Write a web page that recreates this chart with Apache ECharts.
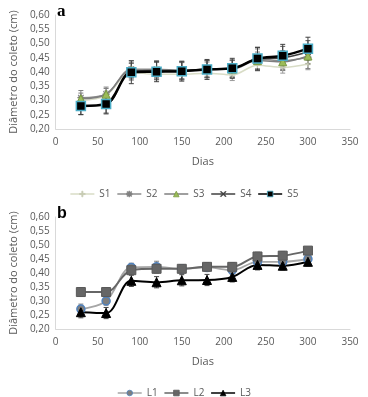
<!DOCTYPE html>
<html><head><meta charset="utf-8">
<script src="https://cdn.jsdelivr.net/npm/echarts@6/dist/echarts.min.js"></script>
<style>html,body{margin:0;padding:0;background:#fff}#c{width:368px;height:397px}</style>
</head><body><div id="c"></div>
<script>
const dias = [30,60,90,120,150,180,210,240,270,300];
const yTicks = ['0,20','0,25','0,30','0,35','0,40','0,45','0,50','0,55','0,60'];
// Panel a
const S1 = [0.300,0.318,0.398,0.392,0.392,0.396,0.390,0.424,0.416,0.428];
const S2 = [0.310,0.322,0.410,0.410,0.406,0.410,0.412,0.446,0.440,0.452];
const S3 = [0.306,0.322,0.405,0.405,0.403,0.410,0.410,0.440,0.436,0.456];
const S4 = [0.280,0.286,0.402,0.405,0.405,0.410,0.412,0.446,0.450,0.470];
const S5 = [0.281,0.288,0.399,0.401,0.403,0.409,0.413,0.447,0.457,0.482];
const E1 = [0.015,0.015,0.020,0.020,0.020,0.015,0.020,0.020,0.020,0.020];
const E2 = [0.025,0.025,0.030,0.030,0.030,0.030,0.030,0.035,0.035,0.040];
const E3 = [0.020,0.020,0.025,0.030,0.030,0.025,0.030,0.030,0.030,0.030];
const E4 = [0.030,0.030,0.030,0.030,0.030,0.030,0.030,0.040,0.040,0.040];
const E5 = [0.030,0.035,0.040,0.035,0.035,0.035,0.035,0.040,0.040,0.040];
// Panel b
const L1 = [0.271,0.300,0.420,0.422,0.415,0.420,0.410,0.440,0.440,0.450];
const L2 = [0.332,0.332,0.410,0.415,0.415,0.422,0.422,0.459,0.462,0.480];
const L3 = [0.260,0.257,0.372,0.367,0.374,0.375,0.386,0.429,0.426,0.440];
const EL1 = [0.018,0.015,0.015,0.020,0.015,0.015,0.015,0.015,0.015,0.015];
const EL2 = [0.015,0.015,0.015,0.015,0.015,0.015,0.015,0.015,0.015,0.010];
const EL3 = [0.020,0.020,0.020,0.020,0.020,0.020,0.018,0.018,0.015,0.015];

const txt = '#595959';
const font = 'Open Sans';
const asterisk = 'path://M4,0L6,0L6,10L4,10ZM0,4L10,4L10,6L0,6ZM1.5,0.5L9.5,8.5L8.5,9.5L0.5,1.5ZM8.5,0.5L9.5,1.5L1.5,9.5L0.5,8.5Z';
const cross = 'path://M1,0L10,9L9,10L0,1ZM9,0L10,1L1,10L0,9Z';
const plus = 'path://M4,0L6,0L6,10L4,10ZM0,4L10,4L10,6L0,6Z';

function xAx(i){return {type:'value',gridIndex:i,min:0,max:350,interval:50,
  name:'Dias',nameLocation:'middle',nameGap:27,nameTextStyle:{color:txt,fontFamily:font,fontSize:11},
  axisLine:{lineStyle:{color:'#d9d9d9'}},axisTick:{show:false},splitLine:{show:false},
  axisLabel:{color:txt,fontFamily:font,fontSize:10,margin:8}};}
function yAx(i){return {type:'value',gridIndex:i,min:0.2,max:0.6,interval:0.05,
  name:'Diâmetro do coleto (cm)',nameLocation:'middle',nameGap:31,nameTextStyle:{color:txt,fontFamily:font,fontSize:11},
  axisLine:{show:true,lineStyle:{color:'#d9d9d9'}},axisTick:{show:false},splitLine:{show:false},
  axisLabel:{color:txt,fontFamily:font,fontSize:10,margin:6,formatter:v=>yTicks[Math.round((v-0.2)/0.05)]}};}

function errSeries(vals,errs,gi,color){
  return {type:'custom',xAxisIndex:gi,yAxisIndex:gi,z:1,silent:true,
    data:dias.map((d,k)=>[d,vals[k]-errs[k],vals[k]+errs[k]]),
    renderItem:(p,api)=>{
      const lo=api.coord([api.value(0),api.value(1)]);
      const hi=api.coord([api.value(0),api.value(2)]);
      const w=2.5;
      const st={stroke:color,lineWidth:1};
      return {type:'group',children:[
        {type:'line',shape:{x1:lo[0],y1:lo[1],x2:hi[0],y2:hi[1]},style:st},
        {type:'line',shape:{x1:lo[0]-w,y1:lo[1],x2:lo[0]+w,y2:lo[1]},style:st},
        {type:'line',shape:{x1:hi[0]-w,y1:hi[1],x2:hi[0]+w,y2:hi[1]},style:st}]};
    }};
}
function lineS(name,vals,gi,lineColor,lw,symbol,size,fill,border,bw){
  return {name,type:'line',xAxisIndex:gi,yAxisIndex:gi,z:3,smooth:0.35,
    data:dias.map((d,k)=>[d,vals[k]]),
    lineStyle:{color:lineColor,width:lw},
    symbol,symbolSize:size,showSymbol:true,
    itemStyle:{color:fill,borderColor:border,borderWidth:bw},
    emphasis:{disabled:true}};
}
const legText = {color:txt,fontFamily:font,fontSize:10};
const option = {
  animation:false,
  grid:[{left:53,right:18,top:15,height:114},{left:54,right:18,top:217,height:112}],
  xAxis:[xAx(0),xAx(1)],
  yAxis:[yAx(0),yAx(1)],
  legend:[
    {data:['S1','S2','S3','S4','S5'],top:184,left:'center',itemWidth:24,itemHeight:7,itemGap:6,
     itemStyle:{borderWidth:0.8},lineStyle:{width:1.5},textStyle:legText},
    {data:['L1','L2','L3'],top:383,left:'center',itemWidth:24,itemHeight:7,itemGap:6,
     itemStyle:{borderWidth:0.8},lineStyle:{width:1.5},textStyle:legText}
  ],
  graphic:[
    {type:'text',left:57,top:3,style:{text:'a',font:'bold 17px "Liberation Serif"',fill:'#000'}},
    {type:'text',left:57,top:206,style:{text:'b',font:'bold 16px "Liberation Sans"',fill:'#000'}}
  ],
  series:[
    errSeries(S1,E1,0,'#9a9a9a'),errSeries(S2,E2,0,'#7f7f7f'),errSeries(S3,E3,0,'#7f7f7f'),
    errSeries(S4,E4,0,'#595959'),errSeries(S5,E5,0,'#404040'),
    lineS('S1',S1,0,'#d8dcc6',1.5,plus,6,'#c8ccb4','#c8ccb4',0),
    lineS('S2',S2,0,'#8c8c8c',1.5,asterisk,7,'#808080','#808080',0),
    lineS('S3',S3,0,'#7f7f7f',1.5,'triangle',8,'#9bbb59','#7a9a40',1),
    lineS('S4',S4,0,'#404040',1.5,cross,6,'#404040','#404040',0),
    lineS('S5',S5,0,'#000000',2.5,'rect',9,'#000000','#4bacc6',1.5),
    errSeries(L1,EL1,1,'#808080'),errSeries(L2,EL2,1,'#595959'),errSeries(L3,EL3,1,'#404040'),
    lineS('L1',L1,1,'#a6a6a6',1.8,'circle',8,'#7f7f7f','#4f81bd',1.5),
    lineS('L2',L2,1,'#666666',2,'rect',9,'#666666','#595959',1),
    lineS('L3',L3,1,'#000000',2,'triangle',9,'#000000','#000000',1)
  ]
};
const chart = echarts.init(document.getElementById('c'),null,{renderer:'canvas'});
chart.setOption(option);
</script></body></html>
